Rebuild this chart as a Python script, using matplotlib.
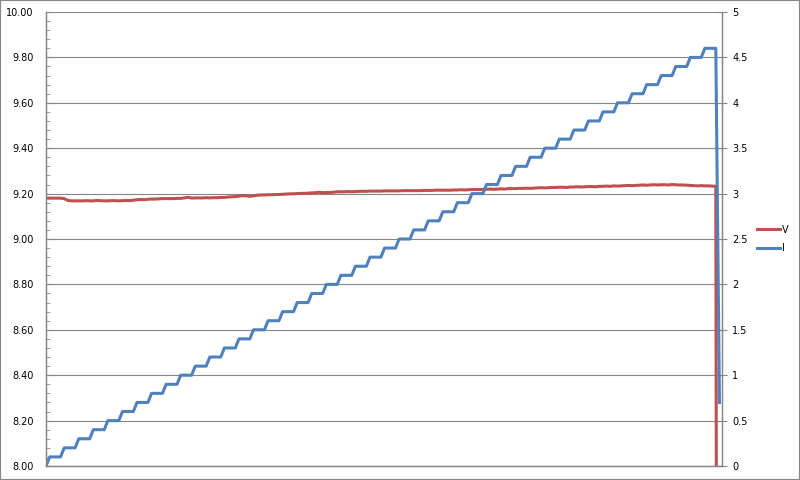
import matplotlib
matplotlib.use("Agg")
import matplotlib.pyplot as plt
from matplotlib.patches import Rectangle
from matplotlib.ticker import MultipleLocator, FormatStrFormatter
import numpy as np

# voltage (left axis), one reading per sample
V = [
    9.180, 9.180, 9.180, 9.180, 9.180, 9.178, 9.170, 9.168, 9.168, 9.168,
    9.168, 9.169, 9.168, 9.168, 9.170, 9.169, 9.168, 9.168, 9.169, 9.169,
    9.168, 9.169, 9.170, 9.169, 9.171, 9.173, 9.174, 9.173, 9.175, 9.176,
    9.176, 9.177, 9.178, 9.178, 9.178, 9.178, 9.179, 9.179, 9.181, 9.184,
    9.180, 9.181, 9.181, 9.181, 9.182, 9.181, 9.182, 9.182, 9.183, 9.183,
    9.185, 9.186, 9.187, 9.189, 9.191, 9.190, 9.188, 9.190, 9.193, 9.194,
    9.194, 9.195, 9.195, 9.196, 9.196, 9.197, 9.198, 9.199, 9.199, 9.200,
    9.201, 9.201, 9.202, 9.203, 9.204, 9.206, 9.204, 9.205, 9.205, 9.206,
    9.208, 9.208, 9.208, 9.209, 9.208, 9.209, 9.210, 9.210, 9.210, 9.211,
    9.211, 9.211, 9.211, 9.212, 9.212, 9.212, 9.212, 9.212, 9.213, 9.213,
    9.213, 9.213, 9.213, 9.213, 9.214, 9.214, 9.214, 9.215, 9.215, 9.215,
    9.215, 9.215, 9.216, 9.216, 9.217, 9.216, 9.217, 9.218, 9.218, 9.218,
    9.218, 9.219, 9.220, 9.219, 9.220, 9.221, 9.220, 9.222, 9.222, 9.222,
    9.223, 9.223, 9.224, 9.223, 9.224, 9.225, 9.226, 9.225, 9.226, 9.227,
    9.227, 9.228, 9.228, 9.227, 9.229, 9.229, 9.230, 9.229, 9.230, 9.231,
    9.231, 9.230, 9.232, 9.232, 9.233, 9.232, 9.234, 9.233, 9.234, 9.235,
    9.236, 9.235, 9.236, 9.237, 9.238, 9.237, 9.238, 9.239, 9.238, 9.239,
    9.239, 9.238, 9.240, 9.239, 9.238, 9.238, 9.237, 9.236, 9.235, 9.234,
    9.235, 9.234, 9.234, 9.233, 9.232, 0.0,
]

# current (right axis), one reading per sample
I = [
    0.0,
    0.1, 0.1, 0.1, 0.1, 0.2, 0.2, 0.2, 0.2, 0.3, 0.3, 0.3, 0.3,
    0.4, 0.4, 0.4, 0.4, 0.5, 0.5, 0.5, 0.5, 0.6, 0.6, 0.6, 0.6,
    0.7, 0.7, 0.7, 0.7, 0.8, 0.8, 0.8, 0.8, 0.9, 0.9, 0.9, 0.9,
    1.0, 1.0, 1.0, 1.0, 1.1, 1.1, 1.1, 1.1, 1.2, 1.2, 1.2, 1.2,
    1.3, 1.3, 1.3, 1.3, 1.4, 1.4, 1.4, 1.4, 1.5, 1.5, 1.5, 1.5,
    1.6, 1.6, 1.6, 1.6, 1.7, 1.7, 1.7, 1.7, 1.8, 1.8, 1.8, 1.8,
    1.9, 1.9, 1.9, 1.9, 2.0, 2.0, 2.0, 2.0, 2.1, 2.1, 2.1, 2.1,
    2.2, 2.2, 2.2, 2.2, 2.3, 2.3, 2.3, 2.3, 2.4, 2.4, 2.4, 2.4,
    2.5, 2.5, 2.5, 2.5, 2.6, 2.6, 2.6, 2.6, 2.7, 2.7, 2.7, 2.7,
    2.8, 2.8, 2.8, 2.8, 2.9, 2.9, 2.9, 2.9, 3.0, 3.0, 3.0, 3.0,
    3.1, 3.1, 3.1, 3.1, 3.2, 3.2, 3.2, 3.2, 3.3, 3.3, 3.3, 3.3,
    3.4, 3.4, 3.4, 3.4, 3.5, 3.5, 3.5, 3.5, 3.6, 3.6, 3.6, 3.6,
    3.7, 3.7, 3.7, 3.7, 3.8, 3.8, 3.8, 3.8, 3.9, 3.9, 3.9, 3.9,
    4.0, 4.0, 4.0, 4.0, 4.1, 4.1, 4.1, 4.1, 4.2, 4.2, 4.2, 4.2,
    4.3, 4.3, 4.3, 4.3, 4.4, 4.4, 4.4, 4.4, 4.5, 4.5, 4.5, 4.5,
    4.6, 4.6, 4.6, 4.6,
    0.7,
]

labels = ["V", "I"]
red = "#C0504D"
blue = "#4F81BD"
grey = "#868686"

x = np.arange(len(V))

fig = plt.figure(figsize=(8, 4.8), dpi=100)
fig.patches.append(Rectangle((0, 0), 1, 1, transform=fig.transFigure,
                             fill=False, edgecolor=grey, linewidth=1.5))

ax1 = fig.add_axes([46/800, 14/480, 676/800, 454/480])
ax2 = ax1.twinx()

l1, = ax1.plot(x, V, color=red, lw=2.2, solid_joinstyle="round")
l2, = ax2.plot(x, I, color=blue, lw=2.2, solid_joinstyle="round")

ax1.set_xlim(0, len(V) - 1 + 0.7)
ax1.set_ylim(8.0, 10.0)
ax2.set_ylim(0, 5)

ax1.yaxis.set_major_locator(MultipleLocator(0.2))
ax1.yaxis.set_minor_locator(MultipleLocator(0.04))
ax1.yaxis.set_major_formatter(FormatStrFormatter("%.2f"))
ax2.set_yticks(np.arange(0, 5.01, 0.5))
ax2.set_yticklabels(["0", "0.5", "1", "1.5", "2", "2.5", "3", "3.5", "4", "4.5", "5"])

ax1.grid(axis="y", which="major", color=grey, lw=0.8)
ax1.set_axisbelow(True)
ax1.set_xticks([])

ax1.tick_params(axis="y", which="major", direction="in", length=4, color=grey,
                labelsize=7, pad=9)
ax1.tick_params(axis="y", which="minor", direction="in", length=3, color=grey)
ax2.tick_params(axis="y", which="major", direction="inout", length=7, color=grey,
                labelsize=7, pad=4)

for a in (ax1, ax2):
    a.spines["top"].set_visible(False)
    for s in ("left", "right", "bottom"):
        a.spines[s].set_color(grey)
        a.spines[s].set_linewidth(0.9)

fig.legend([l1, l2], labels, loc="center left", bbox_to_anchor=(757/800, 0.502),
           frameon=False, fontsize=7, handlelength=2.4, handletextpad=0.2,
           labelspacing=0.9, borderpad=0, borderaxespad=0)

fig.savefig("out.png", dpi=100)
